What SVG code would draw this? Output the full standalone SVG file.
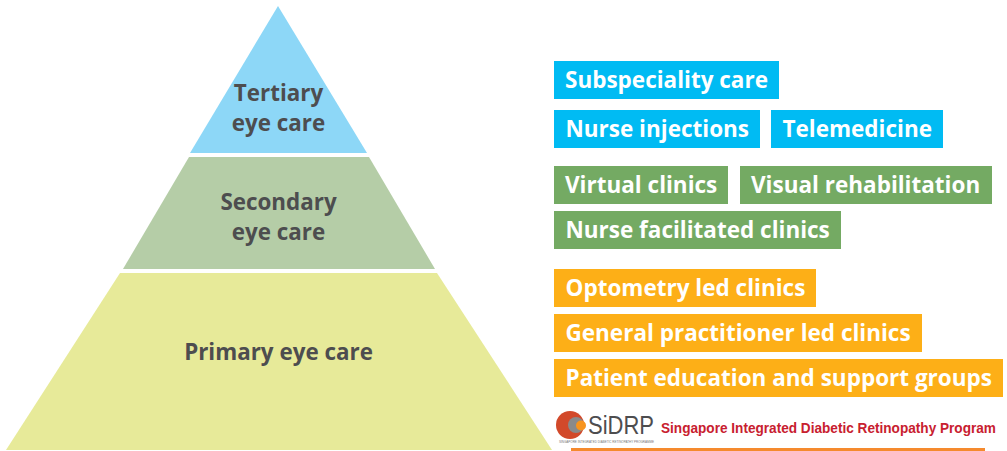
<svg xmlns="http://www.w3.org/2000/svg" width="1007" height="451" viewBox="0 0 1007 451">
<style>
.l{font-family:"Open Sans","Noto Sans",sans-serif;font-weight:700;font-size:22.5px;fill:#fff}
.p{font-family:"Open Sans","Noto Sans",sans-serif;font-weight:700;font-size:22.4px;fill:#4d4d4f;text-anchor:middle}
.b{fill:#00bbf3}.g{fill:#74aa63}.o{fill:#fdaf17}
</style>
<rect width="1007" height="451" fill="#fff"/>
<g id="tertiary"><polygon points="278,6 367,153 190,153" fill="#8dd7f7"/><text class="p" x="278.500" y="101">Tertiary</text><text class="p" x="278.500" y="131">eye care</text></g>
<g id="secondary"><polygon points="189,157 369,157 435,269 123,269" fill="#b5cda7"/><text class="p" x="278.500" y="210">Secondary</text><text class="p" x="278.500" y="240">eye care</text></g>
<g id="primary"><polygon points="120,273 437,273 552,450 6,450" fill="#e7ea99"/><text class="p" x="278.500" y="360">Primary eye care</text></g>
<g id="n1"><rect class="b" x="554" y="61" width="225" height="38"/><text class="l" x="565" y="88">Subspeciality care</text></g>
<g id="n2"><rect class="b" x="554" y="110" width="206" height="38"/><text class="l" x="565.500" y="137">Nurse injections</text></g>
<g id="n3"><rect class="b" x="771" y="110" width="172" height="38"/><text class="l" x="782.500" y="137">Telemedicine</text></g>
<g id="n4"><rect class="g" x="554" y="166" width="174" height="38"/><text class="l" x="565" y="193">Virtual clinics</text></g>
<g id="n5"><rect class="g" x="740" y="166" width="252" height="38"/><text class="l" x="751" y="193">Visual rehabilitation</text></g>
<g id="n6"><rect class="g" x="554" y="211" width="287" height="38"/><text class="l" x="565.500" y="238">Nurse facilitated clinics</text></g>
<g id="n7"><rect class="o" x="554" y="269" width="262" height="38"/><text class="l" x="565.500" y="296">Optometry led clinics</text></g>
<g id="n8"><rect class="o" x="554" y="314" width="368" height="38"/><text class="l" x="565.500" y="341">General practitioner led clinics</text></g>
<g id="n9"><rect class="o" x="554" y="359" width="449" height="38"/><text class="l" x="565.500" y="386">Patient education and support groups</text></g>
<g id="logo">
<circle cx="570" cy="425" r="14" fill="#d2492a"/><circle cx="576" cy="425" r="8" fill="#8a8a8a"/><circle cx="581" cy="425.500" r="5" fill="#f7941d"/>
<text x="588" y="434" font-family="'Liberation Sans',sans-serif" font-size="26" fill="#4d4d4f" textLength="66" lengthAdjust="spacingAndGlyphs">SiDRP</text>
<text x="559" y="442.500" font-family="'Liberation Sans',sans-serif" font-size="3" fill="#777" textLength="95" lengthAdjust="spacingAndGlyphs">SINGAPORE INTEGRATED DIABETIC RETINOPATHY PROGRAMME</text>
<text transform="translate(661 433) scale(0.908 1)" x="0" y="0" font-family="'Liberation Sans',sans-serif" font-weight="700" font-size="15" fill="#c8202f">Singapore Integrated Diabetic Retinopathy Program</text>
</g>
<rect x="571" y="448" width="414" height="3" fill="#f58a2e"/>
</svg>
